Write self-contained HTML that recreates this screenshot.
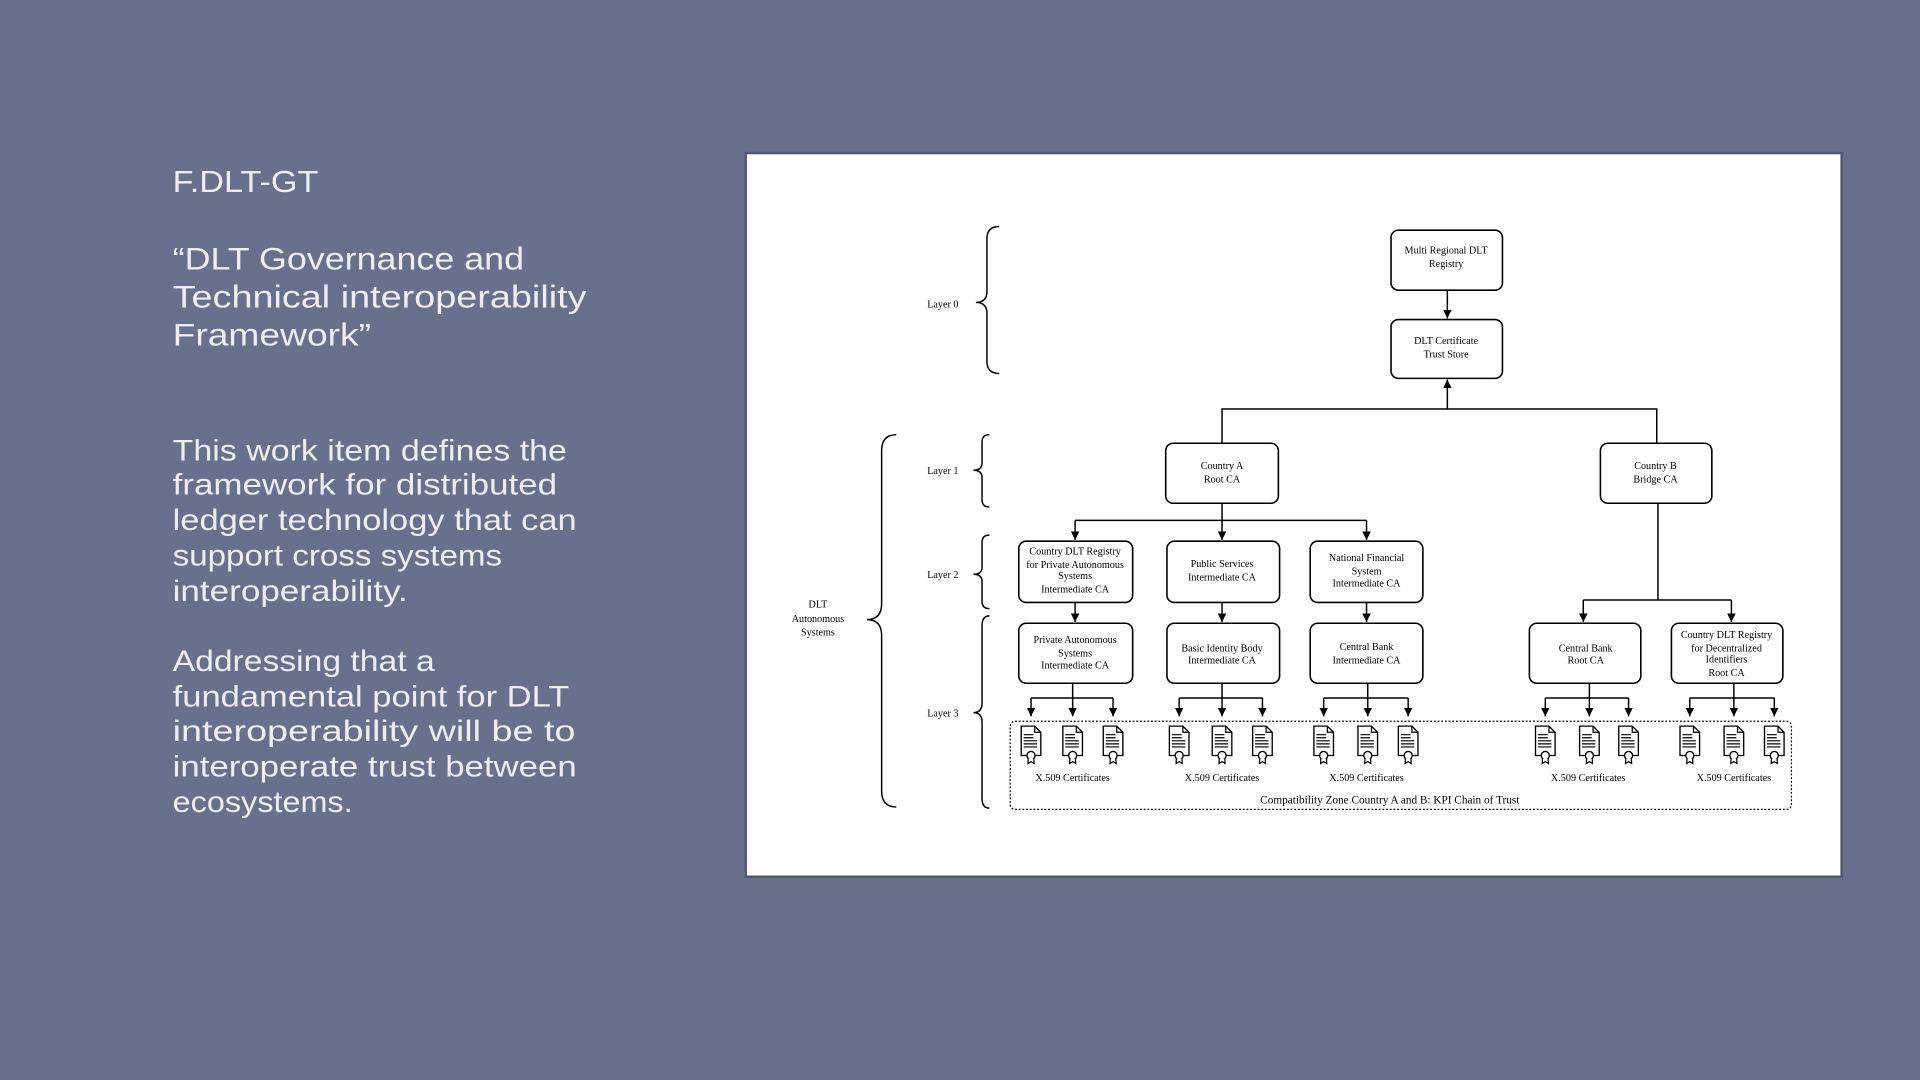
<!DOCTYPE html>
<html><head><meta charset="utf-8"><style>
html,body{margin:0;padding:0;background:#68718b;}
svg{display:block;}
.h{font-family:"Liberation Sans",sans-serif;fill:#eceef3;}
.s{font-family:"Liberation Serif",serif;font-size:8.3px;fill:#000;text-anchor:middle;}
.b{fill:#fff;stroke:#000;stroke-width:1.3;}
.l{stroke:#000;stroke-width:1.2;fill:none;}
</style></head><body>
<svg width="1920" height="1080" viewBox="0 0 1568 882" xmlns="http://www.w3.org/2000/svg">
<defs>
<marker id="a" viewBox="0 0 10 10" refX="10" refY="5" markerWidth="7" markerHeight="7" orient="auto" markerUnits="userSpaceOnUse"><path d="M0,0L10,5L0,10z" fill="#000"/></marker>
<symbol id="c" viewBox="0 0 18 32" overflow="visible">
<path d="M1,1H12L17,6V25H1Z" fill="#fff" stroke="#000" stroke-width="1.1"/>
<path d="M12,1V6H17" fill="none" stroke="#000" stroke-width="1"/>
<path d="M3,8H11M3,10.5H11M3,13H14M3,15.5H14M3,18H14" stroke="#000" stroke-width="1"/>
<circle cx="9" cy="25" r="3.3" fill="#fff" stroke="#000" stroke-width="1.1"/>
<path d="M6.7,27.5L6.5,31.5L9,30L11.5,31.5L11.3,27.5" fill="#fff" stroke="#000" stroke-width="1"/>
</symbol>
</defs>
<rect width="1568" height="882" fill="#68718b"/>
<g class="h">
<text x="141" y="157" font-size="25" textLength="119" lengthAdjust="spacingAndGlyphs">F.DLT-GT</text>
<text x="141" y="220" font-size="25.5" textLength="287" lengthAdjust="spacingAndGlyphs">“DLT Governance and</text>
<text x="141" y="251" font-size="25.5" textLength="338" lengthAdjust="spacingAndGlyphs">Technical interoperability</text>
<text x="141" y="282" font-size="25.5" textLength="162" lengthAdjust="spacingAndGlyphs">Framework”</text>
<g font-size="24">
<text x="141" y="376" textLength="322" lengthAdjust="spacingAndGlyphs">This work item defines the</text>
<text x="141" y="404" textLength="314" lengthAdjust="spacingAndGlyphs">framework for distributed</text>
<text x="141" y="433" textLength="330" lengthAdjust="spacingAndGlyphs">ledger technology that can</text>
<text x="141" y="462" textLength="269" lengthAdjust="spacingAndGlyphs">support cross systems</text>
<text x="141" y="491" textLength="192" lengthAdjust="spacingAndGlyphs">interoperability.</text>
<text x="141" y="548" textLength="214" lengthAdjust="spacingAndGlyphs">Addressing that a</text>
<text x="141" y="577" textLength="324" lengthAdjust="spacingAndGlyphs">fundamental point for DLT</text>
<text x="141" y="605" textLength="329" lengthAdjust="spacingAndGlyphs">interoperability will be to</text>
<text x="141" y="634" textLength="330" lengthAdjust="spacingAndGlyphs">interoperate trust between</text>
<text x="141" y="663" textLength="147" lengthAdjust="spacingAndGlyphs">ecosystems.</text>
</g></g>
<rect x="609" y="125" width="895" height="591" fill="#fff" stroke="#4f5670" stroke-width="2"/>
<!-- braces -->
<g class="l">
<path d="M816,185Q806,185 806,195L806,238Q806,247 797,247Q806,247 806,256L806,295Q806,305 816,305"/>
<path d="M808,355Q802,355 802,361L802,378Q802,384 795,384Q802,384 802,390L802,408Q802,414 808,414"/>
<path d="M808,437Q802,437 802,443L802,463Q802,469 795,469Q802,469 802,475L802,491Q802,497 808,497"/>
<path d="M808,503Q802,503 802,511L802,574Q802,582 795,582Q802,582 802,590L802,652Q802,660 808,660"/>
<path d="M732,355Q720,355 720,368L720,493Q720,506 708,506Q720,506 720,519L720,646Q720,659 732,659"/>
</g>
<g class="s">
<text x="770" y="251">Layer 0</text>
<text x="770" y="387">Layer 1</text>
<text x="770" y="472">Layer 2</text>
<text x="770" y="585">Layer 3</text>
<text x="668" y="496">DLT</text>
<text x="668" y="508">Autonomous</text>
<text x="668" y="519">Systems</text>
</g>
<!-- boxes -->
<g class="b">
<rect x="1136" y="188" width="91" height="49" rx="6"/>
<rect x="1136" y="261" width="91" height="48" rx="6"/>
<rect x="952" y="362" width="92" height="49" rx="6"/>
<rect x="1307" y="362" width="91" height="49" rx="6"/>
<rect x="832" y="442" width="93" height="50" rx="6"/>
<rect x="953" y="442" width="92" height="50" rx="6"/>
<rect x="1070" y="442" width="92" height="50" rx="6"/>
<rect x="832" y="509" width="93" height="49" rx="6"/>
<rect x="953" y="509" width="92" height="49" rx="6"/>
<rect x="1070" y="509" width="92" height="49" rx="6"/>
<rect x="1249" y="509" width="91" height="49" rx="6"/>
<rect x="1365" y="509" width="91" height="49" rx="6"/>
</g>
<g class="s">
<text x="1181" y="207">Multi Regional DLT</text><text x="1181" y="218">Registry</text>
<text x="1181" y="281">DLT Certificate</text><text x="1181" y="292">Trust Store</text>
<text x="998" y="383">Country A</text><text x="998" y="394">Root CA</text>
<text x="1352" y="383">Country B</text><text x="1352" y="394">Bridge CA</text>
<text x="878" y="453">Country DLT Registry</text><text x="878" y="464">for Private Autonomous</text><text x="878" y="473">Systems</text><text x="878" y="484">Intermediate CA</text>
<text x="998" y="463">Public Services</text><text x="998" y="474">Intermediate CA</text>
<text x="1116" y="458">National Financial</text><text x="1116" y="469">System</text><text x="1116" y="479">Intermediate CA</text>
<text x="878" y="525">Private Autonomous</text><text x="878" y="536">Systems</text><text x="878" y="546">Intermediate CA</text>
<text x="998" y="532">Basic Identity Body</text><text x="998" y="542">Intermediate CA</text>
<text x="1116" y="531">Central Bank</text><text x="1116" y="542">Intermediate CA</text>
<text x="1295" y="532">Central Bank</text><text x="1295" y="542">Root CA</text>
<text x="1410" y="521">Country DLT Registry</text><text x="1410" y="532">for Decentralized</text><text x="1410" y="541">Identifiers</text><text x="1410" y="552">Root CA</text>
</g>
<!-- connectors -->
<g class="l">
<path d="M1182,237V260" marker-end="url(#a)"/>
<path d="M1182,334V310" marker-end="url(#a)"/>
<path d="M998,362V334H1353V362"/>
<path d="M998,411V425M878,425H1116"/>
<path d="M878,425V441" marker-end="url(#a)"/><path d="M998,425V441" marker-end="url(#a)"/><path d="M1116,425V441" marker-end="url(#a)"/>
<path d="M878,492V508" marker-end="url(#a)"/><path d="M998,492V508" marker-end="url(#a)"/><path d="M1116,492V508" marker-end="url(#a)"/>
<path d="M1354,411V490M1293,490H1414"/>
<path d="M1293,490V508" marker-end="url(#a)"/><path d="M1414,490V508" marker-end="url(#a)"/>
</g>
<g class="l" id="fan">
<path d="M876,558V570M842,570H909"/><path d="M842,570V585" marker-end="url(#a)"/><path d="M876,570V585" marker-end="url(#a)"/><path d="M909,570V585" marker-end="url(#a)"/>
<path d="M998,558V570M963,570H1031"/><path d="M963,570V585" marker-end="url(#a)"/><path d="M998,570V585" marker-end="url(#a)"/><path d="M1031,570V585" marker-end="url(#a)"/>
<path d="M1117,558V570M1081,570H1150"/><path d="M1081,570V585" marker-end="url(#a)"/><path d="M1117,570V585" marker-end="url(#a)"/><path d="M1150,570V585" marker-end="url(#a)"/>
<path d="M1298,558V570M1262,570H1330"/><path d="M1262,570V585" marker-end="url(#a)"/><path d="M1298,570V585" marker-end="url(#a)"/><path d="M1330,570V585" marker-end="url(#a)"/>
<path d="M1416,558V570M1380,570H1449"/><path d="M1380,570V585" marker-end="url(#a)"/><path d="M1416,570V585" marker-end="url(#a)"/><path d="M1449,570V585" marker-end="url(#a)"/>
</g>
<rect x="825" y="589" width="638" height="72" rx="4" fill="none" stroke="#000" stroke-width="1" stroke-dasharray="1.5,1.5"/>
<g>
<use href="#c" x="833" y="592" width="18" height="32"/><use href="#c" x="867" y="592" width="18" height="32"/><use href="#c" x="900" y="592" width="18" height="32"/>
<use href="#c" x="954" y="592" width="18" height="32"/><use href="#c" x="989" y="592" width="18" height="32"/><use href="#c" x="1022" y="592" width="18" height="32"/>
<use href="#c" x="1072" y="592" width="18" height="32"/><use href="#c" x="1108" y="592" width="18" height="32"/><use href="#c" x="1141" y="592" width="18" height="32"/>
<use href="#c" x="1253" y="592" width="18" height="32"/><use href="#c" x="1289" y="592" width="18" height="32"/><use href="#c" x="1321" y="592" width="18" height="32"/>
<use href="#c" x="1371" y="592" width="18" height="32"/><use href="#c" x="1407" y="592" width="18" height="32"/><use href="#c" x="1440" y="592" width="18" height="32"/>
</g>
<g class="s">
<text x="876" y="638">X.509 Certificates</text>
<text x="998" y="638">X.509 Certificates</text>
<text x="1116" y="638">X.509 Certificates</text>
<text x="1297" y="638">X.509 Certificates</text>
<text x="1416" y="638">X.509 Certificates</text>
<text x="1135" y="656" font-size="9.2">Compatibility Zone Country A and  B:   KPI Chain of Trust</text>
</g>
</svg>
</body></html>
